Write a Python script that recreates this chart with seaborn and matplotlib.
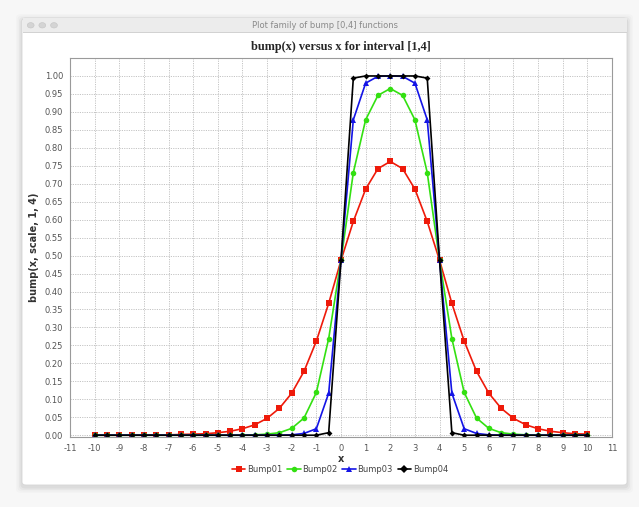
import numpy as np
import pandas as pd
import seaborn as sns
import matplotlib
matplotlib.use("Agg")
from matplotlib import pyplot as plt
from matplotlib.patches import FancyBboxPatch, Rectangle, Circle

x_values = list(np.arange(-10, 10.5, 0.5))

bump01 = [0.000, 0.000, 0.000, 0.000, 0.001, 0.001, 0.001, 0.002, 0.003, 0.004,
          0.007, 0.011, 0.018, 0.029, 0.047, 0.075, 0.117, 0.178, 0.262, 0.367,
          0.487, 0.595, 0.685, 0.742, 0.762, 0.742, 0.685, 0.595, 0.487, 0.367,
          0.262, 0.178, 0.117, 0.075, 0.047, 0.029, 0.018, 0.011, 0.007, 0.004,
          0.003]
bump02 = [0.000, 0.000, 0.000, 0.000, 0.000, 0.000, 0.000, 0.000, 0.000, 0.000,
          0.000, 0.000, 0.000, 0.001, 0.003, 0.007, 0.019, 0.048, 0.119, 0.269,
          0.487, 0.731, 0.878, 0.946, 0.965, 0.946, 0.878, 0.731, 0.487, 0.269,
          0.119, 0.048, 0.019, 0.007, 0.003, 0.001, 0.000, 0.000, 0.000, 0.000,
          0.000]
bump03 = [0.000, 0.000, 0.000, 0.000, 0.000, 0.000, 0.000, 0.000, 0.000, 0.000,
          0.000, 0.000, 0.000, 0.000, 0.000, 0.000, 0.001, 0.005, 0.018, 0.117,
          0.487, 0.878, 0.980, 0.999, 1.000, 0.999, 0.980, 0.878, 0.487, 0.117,
          0.018, 0.005, 0.001, 0.000, 0.000, 0.000, 0.000, 0.000, 0.000, 0.000,
          0.000]
bump04 = [0.000, 0.000, 0.000, 0.000, 0.000, 0.000, 0.000, 0.000, 0.000, 0.000,
          0.000, 0.000, 0.000, 0.000, 0.000, 0.000, 0.000, 0.000, 0.000, 0.007,
          0.487, 0.994, 1.000, 1.000, 1.000, 1.000, 1.000, 0.994, 0.487, 0.007,
          0.000, 0.000, 0.000, 0.000, 0.000, 0.000, 0.000, 0.000, 0.000, 0.000,
          0.000]

series_names = ["Bump01", "Bump02", "Bump03", "Bump04"]
series_colors = ["#ee1a0a", "#33e011", "#1414e6", "#000000"]
series_markers = ["s", "o", "^", "D"]
marker_sizes = [4.0, 4.0, 4.0, 3.0]

frames = []
for name, vals in zip(series_names, [bump01, bump02, bump03, bump04]):
    frames.append(pd.DataFrame({"x": x_values, "y": vals, "series": name}))
df = pd.concat(frames, ignore_index=True)

sns.set_style("white")
plt.rcParams["font.family"] = ["DejaVu Sans"]
plt.rcParams["axes.unicode_minus"] = False

W, H = 639, 507
fig = plt.figure(figsize=(W / 100, H / 100), dpi=100)
fig.patch.set_facecolor("#f7f7f7")


def fx(px):
    return px / W


def fy(py):
    return 1 - py / H


# window shadow and frame
for i, a in enumerate([0.015, 0.02, 0.03, 0.04]):
    g = 6 - i * 1.5
    fig.add_artist(FancyBboxPatch((fx(22 - g), fy(485 + g + 2)),
                                  fx(605 + 2 * g), (467 + 2 * g) / H,
                                  boxstyle="round,pad=0,rounding_size=0.008",
                                  transform=fig.transFigure, facecolor="black",
                                  edgecolor="none", alpha=a, zorder=0))
fig.add_artist(FancyBboxPatch((fx(22), fy(485)), fx(605), 467 / H,
                              boxstyle="round,pad=0,rounding_size=0.006",
                              transform=fig.transFigure, facecolor="white",
                              edgecolor="#d6d6d6", linewidth=0.6, zorder=1))
fig.add_artist(Rectangle((fx(22.5), fy(32)), fx(604), 14 / H,
                         transform=fig.transFigure, facecolor="#ececec",
                         edgecolor="none", zorder=2))
fig.add_artist(Rectangle((fx(22.5), fy(32.5)), fx(604), 0.6 / H,
                         transform=fig.transFigure, facecolor="#d2d2d2",
                         edgecolor="none", zorder=2))
for cx in [30.7, 42.3, 54]:
    fig.add_artist(Circle((fx(cx), fy(25.3)), 3.4 / W,
                          transform=fig.transFigure, facecolor="#d4d4d4",
                          edgecolor="#c4c4c4", linewidth=0.4, zorder=3))
fig.text(fx(325), fy(25.3), "Plot family of bump [0,4] functions",
         ha="center", va="center", fontsize=6, color="#8a8a8a", zorder=3)

ax = fig.add_axes([fx(70), fy(437), fx(612 - 70), (437 - 58) / H])
ax.set_zorder(4)
ax.set_facecolor("white")

palette = dict(zip(series_names, series_colors))
markers = dict(zip(series_names, series_markers))
sns.lineplot(data=df, x="x", y="y", hue="series", style="series",
             palette=palette, markers=markers, dashes=False, linewidth=1.2,
             markersize=4.0, markeredgewidth=0, ax=ax, legend=True)
for line, ms in zip(ax.lines, marker_sizes):
    line.set_markersize(ms)

ax.set_xlim(-11, 11)
ax.set_ylim(-0.005, 1.05)
ax.set_xticks(np.arange(-11, 12, 1))
ax.set_yticks(np.arange(0, 1.0001, 0.05))
ax.set_yticklabels([f"{v:.2f}" for v in np.arange(0, 1.0001, 0.05)])
ax.grid(True, color="#c4c4c4", linestyle=(0, (1.2, 1.2)), linewidth=0.7)
ax.set_axisbelow(True)
for s in ax.spines.values():
    s.set_color("#9a9a9a")
    s.set_linewidth(0.8)
ax.tick_params(axis="both", labelsize=6, colors="#9a9a9a", labelcolor="#555555",
               length=2, width=0.6, direction="out", pad=3)

ax.set_title("bump(x) versus x for interval [1,4]", fontsize=8.8,
             fontweight="bold", family="Liberation Serif", pad=6)
ax.set_xlabel("x", fontsize=7, fontweight="bold", color="#333333", labelpad=1)
ax.set_ylabel("bump(x, scale, 1, 4)", fontsize=7, fontweight="bold",
              color="#333333", labelpad=4)

handles, labels = ax.get_legend_handles_labels()
leg = ax.legend(handles, labels, loc="center", bbox_to_anchor=(fx(340), fy(469)),
                bbox_transform=fig.transFigure, ncol=4, frameon=False,
                fontsize=6, handlelength=1.6, handletextpad=0.2,
                columnspacing=0.6, borderaxespad=0)
for t in leg.get_texts():
    t.set_color("#444444")

fig.savefig("out.png", dpi=100, facecolor=fig.get_facecolor())
